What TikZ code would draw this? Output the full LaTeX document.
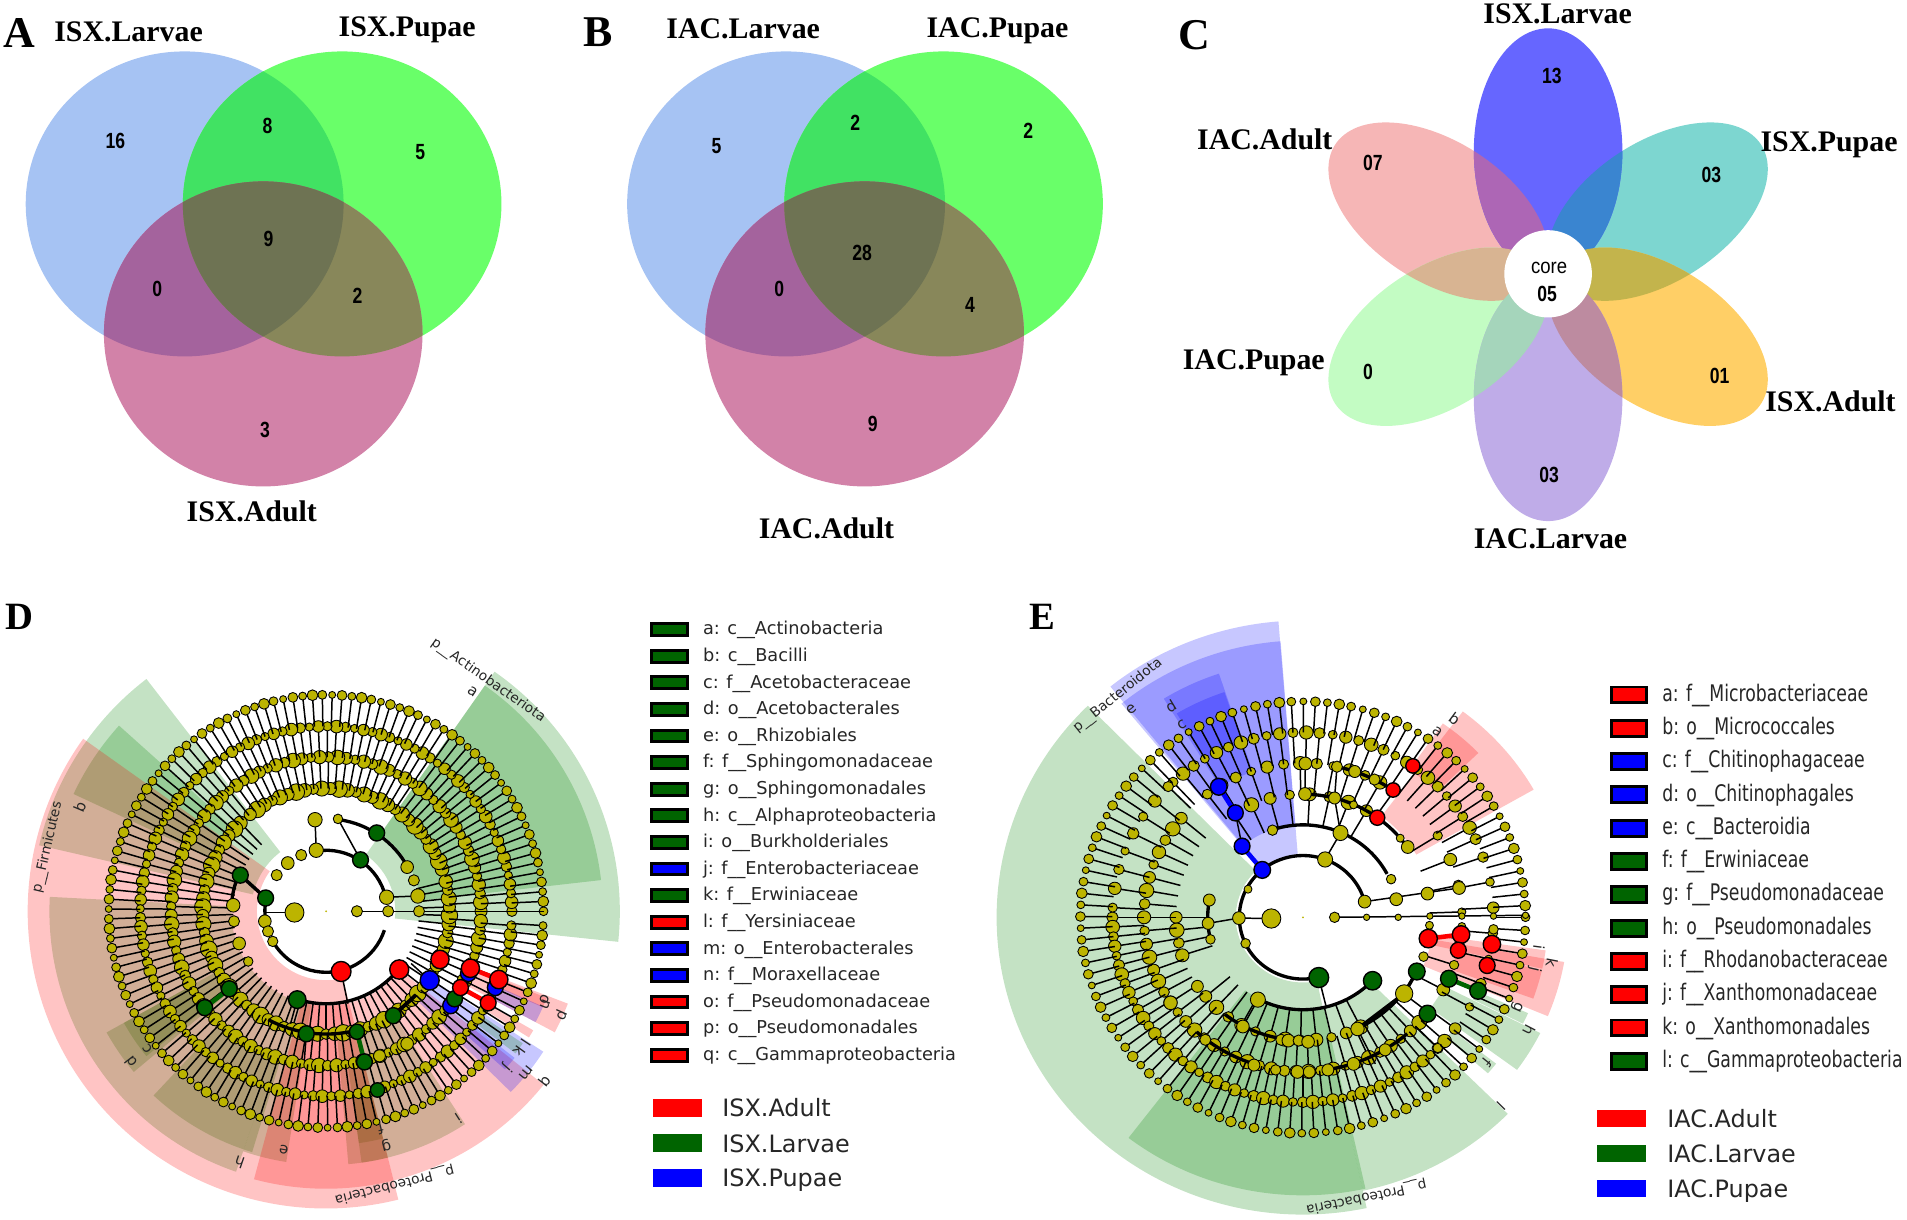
\documentclass[tikz,border=0pt]{standalone}
\usepackage{fontspec}
\usepackage{tikz}
\newfontfamily\fserif{Liberation Serif}
\newfontfamily\fsans{Liberation Sans}
\newfontfamily\fdeja{DejaVu Sans}
\definecolor{bleuven}{HTML}{A6C3F3}
\definecolor{vertven}{HTML}{69FF69}
\definecolor{roseven}{HTML}{D282A8}
\definecolor{bleuvert}{HTML}{41E263}
\definecolor{bleurose}{HTML}{A4639D}
\definecolor{vertrose}{HTML}{88875A}
\definecolor{centreven}{HTML}{6E7353}
\definecolor{jaunelefse}{HTML}{BCB400}
\definecolor{vertlefse}{HTML}{006400}
\definecolor{vertvoile}{RGB}{0,130,0}
\begin{document}
\begin{tikzpicture}[x=0.02cm,y=0.02cm]
% les styles
\tikzstyle titrepanel=[font=\fserif\bfseries\fontsize{25}{28}\selectfont,inner sep=0]
\tikzstyle titrelefse=[font=\fserif\bfseries\fontsize{22}{24}\selectfont,inner sep=0]
\tikzstyle etiqven=[font=\fserif\bfseries\fontsize{17}{20}\selectfont,inner sep=0]
\tikzstyle nombre=[font=\fsans\bfseries\fontsize{12.5}{14}\selectfont,inner sep=0,xscale=0.8]
\tikzstyle taxon=[font=\fdeja\fontsize{7.8}{9}\selectfont,inner sep=0,text=black!85]
\tikzstyle lettre=[font=\fdeja\fontsize{8.6}{9}\selectfont,inner sep=0,text=black!85]
\tikzstyle rayon=[color=black,line width=0.85pt]
\tikzstyle noeudjaune=[draw=black,fill=jaunelefse,line width=0.5pt]
\tikzstyle noeudrouge=[draw=black,fill=red,line width=0.8pt]
\tikzstyle noeudvert=[draw=black,fill=vertlefse,line width=0.8pt]
\tikzstyle noeudbleu=[draw=black,fill=blue,line width=0.8pt]
\tikzstyle arcepais=[color=black,line width=1.9pt]
\tikzstyle voilerouge=[fill=red,opacity=0.23]
\tikzstyle voilevert=[fill=vertvoile,opacity=0.23]
\tikzstyle voilebleu=[fill=blue,opacity=0.22]
\tikzstyle boiteD=[draw=black,line width=1.7pt,inner sep=0,minimum width=20.5pt,minimum height=6.8pt]
\tikzstyle boiteE=[draw=black,line width=1.7pt,inner sep=0,minimum width=19.9pt,minimum height=9.1pt]
\tikzstyle textD=[font=\fdeja\fontsize{10.1}{12}\selectfont,anchor=west,inner sep=0,text height=8pt,text depth=2pt,text=black!85]
\tikzstyle textE=[font=\fdeja\fontsize{13}{15}\selectfont,anchor=west,inner sep=0,xscale=0.757,text height=10pt,text depth=3pt,text=black!85]
\tikzstyle groupe=[font=\fdeja\fontsize{13.6}{16}\selectfont,anchor=west,inner sep=0,text height=10pt,text depth=0pt,text=black!85]
% secteur : style, angle 1, angle 2, rayon 1, rayon 2
\newcommand{\secteur}[5]{\fill[#1] (#2:#4) arc (#2:#3:#4) -- (#3:#5) arc (#3:#2:#5) -- cycle;}
% couronne : debut, pas, fin, rayon 1, rayon 2, taille
\newcommand{\couronne}[6]{
\pgfmathsetmacro{\suiv}{#1+#2}
\foreach \a [count=\i] in {#1,\suiv,...,#3} {
    \pgfmathsetmacro{\taille}{#6*(0.8+0.11*mod(\i*7,5))}
    \draw[rayon] (\a:#4) -- (\a:#5);
    \filldraw[noeudjaune] (\a:#5) circle (\taille);
}}
\newcommand{\cbleu}{(517+\dec,-571) circle [x radius=445,y radius=427]}
\newcommand{\cvert}{(958+\dec,-571) circle [x radius=446,y radius=427]}
\newcommand{\crose}{(737+\dec,-935) circle [x radius=446,y radius=427]}
\useasboundingbox (0,0) rectangle (1907,1220);
% les deux venn
\foreach \ox/\dec in {0/0,570/88} {
\begin{scope}[shift={(\ox,1220)},scale=0.35714]
    \fill[bleuven] \cbleu;
    \fill[vertven] \cvert;
    \fill[roseven] \crose;
    \begin{scope}
    \clip \cbleu;
    \fill[bleuvert] \cvert;
    \fill[bleurose] \crose;
    \end{scope}
    \begin{scope}
    \clip \cvert;
    \fill[vertrose] \crose;
    \clip \cbleu;
    \fill[centreven] \crose;
    \end{scope}
\end{scope}
}
\begin{scope}[shift={(0,1220)},scale=0.35714]
\node[titrepanel] (titreA) at (55,-93) {A};
\node[etiqven] (isxlarA) at (360,-88) {ISX.Larvae};
\node[etiqven] (isxpupA) at (1140,-83) {ISX.Pupae};
\node[etiqven] (isxadA) at (705,-1432) {ISX.Adult};
\foreach \x/\y/\n/\nom in {323/395/16/a1,749/352/8/a2,1177/425/5/a3,752/668/9/a4,440/810/0/a5,1001/828/2/a6,742/1205/3/a7}
    \node[nombre] (\nom) at (\x,-\y) {\n};
\end{scope}
\begin{scope}[shift={(570,1220)},scale=0.35714]
\node[titrepanel] (titreB) at (80,-90) {B};
\node[etiqven] (iaclarB) at (485,-80) {IAC.Larvae};
\node[etiqven] (iacpupB) at (1197,-85) {IAC.Pupae};
\node[etiqven] (iacadB) at (718,-1478) {IAC.Adult};
\foreach \x/\y/\n/\nom in {410/410/5/b1,799/343/2/b2,1283/365/2/b3,818/708/28/b4,586/810/0/b5,1120/853/4/b6,848/1187/9/b7}
    \node[nombre] (\nom) at (\x,-\y) {\n};
\end{scope}
% les petales
\begin{scope}[shift={(1160,1220)},xscale=0.47619,yscale=0.36364]
\newcommand{\pbleu}{(815,-416) circle [x radius=156,y radius=338]}
\newcommand{\pviolet}{(815,-1095) circle [x radius=156,y radius=338]}
\newcommand{\pteal}{(1045,-582) circle [x radius=290,y radius=172,rotate=48.5]}
\newcommand{\porange}{(1045,-926) circle [x radius=290,y radius=172,rotate=-48.5]}
\newcommand{\psaumon}{(585,-582) circle [x radius=290,y radius=172,rotate=-48.5]}
\newcommand{\pvert}{(585,-926) circle [x radius=290,y radius=172,rotate=48.5]}
\fill[color={rgb,255:red,246;green,182;blue,182}] \psaumon;
\fill[color={rgb,255:red,195;green,252;blue,195}] \pvert;
\fill[color={rgb,255:red,125;green,214;blue,208}] \pteal;
\fill[color={rgb,255:red,255;green,207;blue,102}] \porange;
\fill[color={rgb,255:red,191;green,172;blue,232}] \pviolet;
\fill[color={rgb,255:red,102;green,102;blue,255}] \pbleu;
\begin{scope}\clip \pbleu; \fill[color={rgb,255:red,173;green,102;blue,181}] \psaumon; \end{scope}
\begin{scope}\clip \pbleu; \fill[color={rgb,255:red,58;green,133;blue,208}] \pteal; \end{scope}
\begin{scope}\clip \pteal; \fill[color={rgb,255:red,195;green,180;blue,76}] \porange; \end{scope}
\begin{scope}\clip \psaumon; \fill[color={rgb,255:red,216;green,180;blue,146}] \pvert; \end{scope}
\begin{scope}\clip \pvert; \fill[color={rgb,255:red,165;green,213;blue,187}] \pviolet; \end{scope}
\begin{scope}\clip \pviolet; \fill[color={rgb,255:red,189;green,139;blue,160}] \porange; \end{scope}
\fill[white] (815,-753) circle [x radius=92,y radius=120];
\node[titrepanel] (titreC) at (73,-98) {C};
\node[etiqven] (isxlarC) at (835,-38) {ISX.Larvae};
\node[etiqven] (isxpupC) at (1405,-397) {ISX.Pupae};
\node[etiqven] (isxadC) at (1408,-1105) {ISX.Adult};
\node[etiqven] (iaclarC) at (820,-1483) {IAC.Larvae};
\node[etiqven] (iacpupC) at (197,-997) {IAC.Pupae};
\node[etiqven] (iacadC) at (220,-382) {IAC.Adult};
\foreach \x/\y/\n/\nom in {823/210/13/c1,1158/482/03/c2,1175/1033/01/c3,817/1305/03/c4,437/1023/0/c5,447/447/07/c6,813/808/05/c7}
    \node[nombre] (\nom) at (\x,-\y) {\n};
\node[font=\fsans\fontsize{12}{14}\selectfont,inner sep=0,xscale=0.88] (core) at (817,-738) {core};
\end{scope}
% le cladogramme D
\begin{scope}[shift={(0,630)},xscale=0.3953,yscale=0.4016]
\node[titrelefse] (titreD) at (48,-68) {D};
\begin{scope}[shift={(825,-800)},yscale=0.98]
\secteur{voilevert}{-6}{55}{175}{743}
\secteur{voilevert}{6.5}{55}{240}{700}
\secteur{voilevert}{127.6}{167}{190}{745}
\secteur{voilevert}{138}{155}{312}{705}
\secteur{voilevert}{177}{251}{240}{700}
\secteur{voilevert}{251}{261}{240}{645}
\secteur{voilevert}{209}{220}{312}{635}
\secteur{voilevert}{209}{219}{392}{585}
\secteur{voilevert}{227}{253}{392}{640}
\secteur{voilevert}{275}{303}{312}{645}
\secteur{voilevert}{278}{284}{392}{645}
\secteur{voilevert}{278}{284}{470}{595}
\secteur{voilerouge}{144.5}{284}{175}{755}
\secteur{voilerouge}{284}{321.3}{240}{705}
\secteur{voilerouge}{255}{284}{240}{705}
\secteur{voilerouge}{-28}{-21}{392}{655}
\secteur{voilerouge}{-24}{-21.5}{470}{600}
\secteur{voilebleu}{-28}{-23.8}{470}{600}
\secteur{voilerouge}{-32}{-30}{470}{605}
\secteur{voilebleu}{-44.5}{-33}{312}{655}
\secteur{voilevert}{-37}{-34}{470}{600}
\secteur{voilebleu}{-41.6}{-38}{470}{605}
% les anneaux
\couronne{20}{4}{130}{300}{312}{17}
\couronne{134}{4}{376}{235}{312}{17}
\couronne{0}{3.3}{358}{312}{392}{15}
\couronne{0}{2.8}{358}{392}{470}{13}
\couronne{0}{2.6}{358}{470}{550}{11}
\draw[arcepais] (13:155) arc (13:99:155);
\draw[arcepais] (168:155) arc (168:189:155);
\draw[arcepais] (210:155) arc (210:342:155);
\draw[arcepais] (28:235) arc (28:82:235);
\draw[arcepais] (252:235) arc (252:322:235);
\draw[arcepais] (158:240) arc (158:176:240);
\draw[arcepais] (242:312) arc (242:284:312);
\draw[arcepais] (303:311) arc (303:317:311);
\node[taxon] (actino) at (55:715) [rotate=-35] {p\_\_Actinobacteriota};
\node[taxon] (firmi) at (167:723) [rotate=77] {p\_\_Firmicutes};
\node[taxon] (proteoD) at (284:716) [rotate=194] {p\_\_Proteobacteria};
\foreach \a/\r/\n in {56.4/669/a,157/676/b,217.7/572/c,217.7/625/d,260/616/e,284/570/f,284.3/614/g,251/674/h,302.5/623/i,319/606/j,324/604/k,326.5/606/l,321/652/m,337/604/n,338/596/o,336/650/p,322/700/q}
    \node[lettre,rotate=\a-90] (ld\n) at (\a:\r) {\n};
\end{scope}
% les liens forts
\draw[rayon] (745,-803) -- (672,-803);
\draw[rayon] (903,-800) -- (1375,-800);
\draw[rayon] (978,-765) -- (1057,-762);
\draw[rayon] (863,-950) -- (880,-1030);
\draw[rayon] (1087,-972) -- (1040,-930);
\draw[rayon] (752,-1020) -- (735,-1080);
\draw[rayon] (775,-1105) -- (770,-1170);
\draw[rayon] (800,-648) -- (797,-572);
\draw[rayon] (912,-672) -- (855,-570);
\draw[line width=2pt] (672,-767) -- (608,-710);
\draw[line width=2pt] (995,-1060) -- (1050,-1010);
\draw[color=vertlefse,line width=2.6pt] (580,-993) -- (518,-1040);
\draw[color=vertlefse,line width=2.6pt] (903,-1100) -- (922,-1175);
\draw[color=red,line width=2.6pt] (1190,-942) -- (1262,-970);
\draw[color=red,line width=2.6pt] (1165,-990) -- (1235,-1028);
% les noeuds
\foreach \x/\y/\r in {745/803/24,903/800/14,978/765/18,982/800/14,1057/762/18,1060/800/14,1030/690/16,1047/723/14,800/648/18,762/660/14,728/680/16,700/710/14,797/572/18,855/570/12,590/785/17,670/825/16,678/850/14,690/875/13,605/880/16,592/825/14,628/925/12,1030/1130/16,960/1160/15}
    \filldraw[noeudjaune] (\x,-\y) circle (\r);
\foreach \x/\y/\r in {1185/955/20,1253/990/20,1140/1035/20}
    \filldraw[noeudbleu] (\x,-\y) circle (\r);
\filldraw[noeudbleu] (1087,-972) circle (24);
\foreach \x/\y/\r in {953/605/20,912/672/20,672/767/20,608/710/20,580/993/20,518/1040/20,752/1020/22,775/1105/20,903/1100/19,922/1175/20,955/1245/18,995/1060/20,1150/1018/20}
    \filldraw[noeudvert] (\x,-\y) circle (\r);
\foreach \x/\y/\r in {863/950/25,1010/945/24,1113/920/23,1190/942/23,1262/970/23,1165/990/20,1235/1028/20}
    \filldraw[noeudrouge] (\x,-\y) circle (\r);
\fill[jaunelefse] (825,-800) circle (2.5);
\end{scope}
% le cladogramme E
\begin{scope}[shift={(980,630)},xscale=0.3953,yscale=0.4016]
\node[titrelefse] (titreE) at (158,-68) {E};
\begin{scope}[shift={(817,-815)},yscale=0.955]
\secteur{voilevert}{134.6}{282}{170}{775}
\secteur{voilevert}{282}{315.3}{240}{729}
\secteur{voilevert}{232.5}{282.6}{240}{725}
\secteur{voilevert}{-36.3}{-26.7}{400}{672}
\secteur{voilevert}{-26.5}{-23.7}{480}{622}
\secteur{voilevert}{-41}{-38}{480}{620}
\secteur{voilerouge}{29.7}{53}{330}{672}
\secteur{voilerouge}{44}{55}{470}{617}
\secteur{voilerouge}{-22.6}{-10}{330}{671}
\secteur{voilerouge}{-12.5}{-8}{330}{620}
\secteur{voilerouge}{-20}{-12.8}{400}{620}
\secteur{voilebleu}{94.6}{129}{165}{774}
\secteur{voilebleu}{94.5}{129.5}{241}{722}
\secteur{voilebleu}{108.5}{121.7}{400}{670}
\secteur{voilebleu}{108.7}{121}{480}{620}
% les anneaux
\couronne{180}{6}{200}{241}{321}{15}
\couronne{60}{9}{130}{241}{321}{15}
\couronne{220}{7}{300}{241}{321}{15}
\couronne{200}{4.5}{320}{321}{402}{15}
\couronne{140}{5}{198}{321}{402}{15}
\couronne{55}{6}{130}{321}{402}{14}
\couronne{-38}{10}{40}{321}{402}{13}
\couronne{180}{3}{320}{402}{482}{14}
\couronne{25}{4}{135}{402}{482}{14}
\couronne{135}{6}{178}{402}{482}{13}
\couronne{-45}{8}{25}{402}{482}{12}
\couronne{0}{3.1}{358}{482}{563}{11}
\draw[arcepais] (14.7:161) arc (14.7:284:161);
\draw[arcepais] (28:241) arc (28:108:241);
\draw[arcepais] (242:241) arc (242:317:241);
\draw[arcepais] (170:241) arc (170:195:241);
\draw[arcepais] (35:321) arc (35:90:321);
\draw[arcepais] (232:321) arc (232:260:321);
\draw[arcepais] (295:321) arc (295:322:321);
\draw[arcepais] (279:402) arc (279:311:402);
\draw[arcepais] (228:402) arc (228:252:402);
\draw[arcepais] (55.5:402) arc (55.5:78:402);
\node[taxon] (bactero) at (129:744) [rotate=39] {p\_\_Bacteroidota};
\node[taxon] (proteoE) at (282.4:747) [rotate=192] {p\_\_Proteobacteria};
\foreach \a/\r/\n in {54.9/591/a,53.4/643/b,121.4/589/c,121.3/644/d,128.7/695/e,-39/600/f,-23.4/590/g,-27.2/645/h,-7.4/602/i,-13/602/j,-10.8/641/k,-44.5/702/l}
    \node[lettre,rotate=\a-90] (le\n) at (\a:\r) {\n};
\end{scope}
% les liens forts
\draw[rayon] (897,-815) -- (1380,-810);
\draw[rayon] (737,-818) -- (655,-817);
\draw[rayon] (655,-817) -- (577,-830);
\draw[rayon] (857,-965) -- (875,-1035);
\draw[rayon] (703,-1020) -- (665,-1087);
\draw[rayon] (873,-671) -- (912,-605);
\draw[rayon] (912,-605) -- (897,-518);
\draw[rayon] (973,-776) -- (1212,-742);
\draw[rayon] (822,-508) -- (823,-432);
\draw[rayon] (897,-518) -- (903,-440);
\draw[rayon] (955,-1093) -- (1000,-1180);
\draw[rayon] (663,-638) -- (646,-555);
\draw[line width=2pt] (1105,-950) -- (1073,-1005);
\draw[line width=2pt] (1073,-1005) -- (955,-1093);
\draw[color=blue,line width=2.6pt] (714,-697) -- (663,-638);
\draw[color=blue,line width=2.6pt] (646,-555) -- (604,-490);
\draw[color=red,line width=2.6pt] (1134,-868) -- (1217,-858);
\draw[color=vertlefse,line width=2.6pt] (1186,-968) -- (1260,-998);
% les noeuds
\foreach \x/\y/\r in {737/818/24,897/815/13,978/815/8,1058/815/8,1138/812/8,1219/812/8,1299/812/8,1380/810/8,873/671/19,912/605/19,973/776/16,655/817/16,577/830/15,580/772/15,583/870/12,672/880/12,678/745/10,1073/1005/22,703/1020/19,665/1087/16,955/1093/17,1025/1145/15,945/1180/16,880/1195/15,693/1183/15,570/1120/14,482/1028/17,550/987/15,762/1120/14,780/1122/16,806/1122/14,830/1125/16,803/1200/16,833/1200/15,770/1197/14,748/1195/13,823/432/16,903/440/14,948/452/15,998/472/14,822/508/16,897/518/15,945/535/10,740/598/13,1063/618/10,1082/640/16,1132/756/16,1212/742/16,1053/770/16,1040/720/12,1122/913/12,1137/835/10,1219/838/10,1299/845/12}
    \filldraw[noeudjaune] (\x,-\y) circle (\r);
\foreach \x/\y/\r in {714/697/21,663/638/20,646/555/20,604/490/21}
    \filldraw[noeudbleu] (\x,-\y) circle (\r);
\foreach \x/\y/\r in {857/965/25,993/973/23,1105/950/21,1186/968/21,1260/998/21,1132/1055/21}
    \filldraw[noeudvert] (\x,-\y) circle (\r);
\foreach \x/\y/\r in {1134/868/23,1217/858/22,1210/897/20,1295/882/22,1283/935/20,1095/438/18,1045/498/18,1005/567/19}
    \filldraw[noeudrouge] (\x,-\y) circle (\r);
\fill[jaunelefse] (817,-815) circle (2.5);
\end{scope}
% la legende D
\foreach \lab/\coul [count=\i] in {a: c\_\_Actinobacteria/vertlefse,b: c\_\_Bacilli/vertlefse,c: f\_\_Acetobacteraceae/vertlefse,d: o\_\_Acetobacterales/vertlefse,e: o\_\_Rhizobiales/vertlefse,f: f\_\_Sphingomonadaceae/vertlefse,g: o\_\_Sphingomonadales/vertlefse,h: c\_\_Alphaproteobacteria/vertlefse,i: o\_\_Burkholderiales/vertlefse,j: f\_\_Enterobacteriaceae/blue,k: f\_\_Erwiniaceae/vertlefse,l: f\_\_Yersiniaceae/red,m: o\_\_Enterobacterales/blue,n: f\_\_Moraxellaceae/blue,o: f\_\_Pseudomonadaceae/red,p: o\_\_Pseudomonadales/red,q: c\_\_Gammaproteobacteria/red} {
    \pgfmathsetmacro{\yleg}{590.4-26.6*(\i-1)}
    \node[boiteD,fill=\coul] (boiteD\i) at (669.5,\yleg) {};
    \node[textD] (textD\i) at (702.7,\yleg) {\lab};
}
\foreach \lab/\coul/\yleg in {ISX.Adult/red/112,ISX.Larvae/vertlefse/76.5,ISX.Pupae/blue/42} {
    \fill[\coul] (653,\yleg-9) rectangle (702,\yleg+9);
    \node[groupe] (grp\lab) at (722,\yleg) {\lab};
}
% la legende E
\foreach \lab/\coul [count=\i] in {a: f\_\_Microbacteriaceae/red,b: o\_\_Micrococcales/red,c: f\_\_Chitinophagaceae/blue,d: o\_\_Chitinophagales/blue,e: c\_\_Bacteroidia/blue,f: f\_\_Erwiniaceae/vertlefse,g: f\_\_Pseudomonadaceae/vertlefse,h: o\_\_Pseudomonadales/vertlefse,i: f\_\_Rhodanobacteraceae/red,j: f\_\_Xanthomonadaceae/red,k: o\_\_Xanthomonadales/red,l: c\_\_Gammaproteobacteria/vertlefse} {
    \pgfmathsetmacro{\yleg}{525-33.3*(\i-1)}
    \node[boiteE,fill=\coul] (boiteE\i) at (1629,\yleg) {};
    \node[textE] (textE\i) at (1662,\yleg) {\lab};
}
\foreach \lab/\coul/\yleg in {IAC.Adult/red/101,IAC.Larvae/vertlefse/66,IAC.Pupae/blue/31} {
    \fill[\coul] (1597,\yleg-8.5) rectangle (1646,\yleg+8.5);
    \node[groupe] (grp\lab) at (1667,\yleg) {\lab};
}
\end{tikzpicture}
\end{document}
